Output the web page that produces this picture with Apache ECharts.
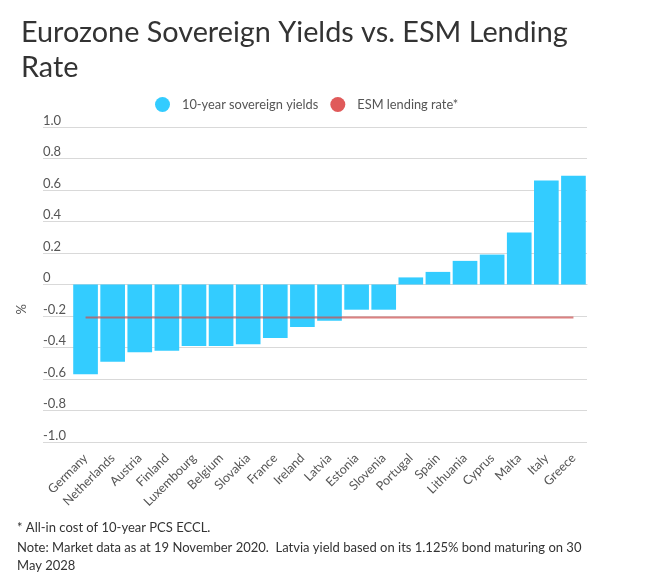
<!DOCTYPE html>
<html>
<head>
<meta charset="utf-8">
<script src="https://cdn.jsdelivr.net/npm/echarts@6/dist/echarts.min.js"></script>
<style>
html,body{margin:0;padding:0;background:#fff;}
#chart{width:650px;height:580px;}
</style>
</head>
<body>
<div id="chart"></div>
<script>
const categories = ["Germany","Netherlands","Austria","Finland","Luxembourg","Belgium","Slovakia","France","Ireland","Latvia","Estonia","Slovenia","Portugal","Spain","Lithuania","Cyprus","Malta","Italy","Greece"];
const sovereignYields = [-0.57,-0.49,-0.43,-0.42,-0.39,-0.39,-0.38,-0.34,-0.27,-0.23,-0.16,-0.16,0.045,0.08,0.15,0.19,0.33,0.66,0.69];
const esmRate = [-0.21,-0.21,-0.21,-0.21,-0.21,-0.21,-0.21,-0.21,-0.21,-0.21,-0.21,-0.21,-0.21,-0.21,-0.21,-0.21,-0.21,-0.21,-0.21];
const titleText = "Eurozone Sovereign Yields vs. ESM Lending\nRate";
const seriesNames = ["10-year sovereign yields","ESM lending rate*"];
const yAxisName = "%";
const footnote1 = "* All-in cost of 10-year PCS ECCL.";
const footnote2 = "Note: Market data as at 19 November 2020.  Latvia yield based on its 1.125% bond maturing on 30";
const footnote3 = "May 2028";

const FONT = "Lato, 'Noto Sans', sans-serif";
const chart = echarts.init(document.getElementById('chart'));
const yFmt = v => (Math.abs(v) < 1e-9 ? "0" : v.toFixed(1));

chart.setOption({
  backgroundColor: '#fff',
  animation: false,
  textStyle: {fontFamily: FONT},
  title: {
    text: titleText,
    left: 16, top: 10,
    textStyle: {fontFamily: FONT, fontSize: 28.8, fontWeight: 'normal', color: '#333', lineHeight: 35}
  },
  legend: {
    left: 150, top: 92,
    itemWidth: 15, itemHeight: 15, itemGap: 12,
    icon: 'circle',
    textStyle: {fontFamily: FONT, fontSize: 12.8, color: '#555', padding: [0,0,0,7]},
    data: seriesNames
  },
  grid: [
    {left: 43, right: 63, top: 127, bottom: 138},
    {left: 72, right: 63, top: 127, bottom: 138}
  ],
  xAxis: [
    {type: 'category', gridIndex: 0, data: categories, show: false},
    {type: 'category', gridIndex: 1, data: categories,
     axisLine: {show: true, lineStyle: {color: '#d6d6d6'}},
     axisTick: {show: false},
     axisLabel: {rotate: 45, fontSize: 12.5, color: '#555', margin: 14, interval: 0, fontFamily: FONT}}
  ],
  yAxis: [
    {type: 'value', gridIndex: 0, min: -1, max: 1, interval: 0.2,
     axisLine: {show: false}, axisTick: {show: false},
     splitLine: {lineStyle: {color: '#d9d9d9'}},
     axisLabel: {inside: true, verticalAlign: 'bottom', margin: 0, padding: [0,0,0,0],
                 fontSize: 13, color: '#555', formatter: yFmt, fontFamily: FONT}},
    {type: 'value', gridIndex: 1, min: -1, max: 1, interval: 0.2, show: false,
     splitLine: {show: false}}
  ],
  series: [
    {name: seriesNames[0], type: 'bar', xAxisIndex: 1, yAxisIndex: 1,
     data: sovereignYields, barWidth: '91%', itemStyle: {color: '#33ccff'}, z: 2},
    {name: seriesNames[1], type: 'line', xAxisIndex: 1, yAxisIndex: 1,
     data: esmRate, showSymbol: false, symbol: 'circle', z: 3,
     itemStyle: {color: '#e05a5a'},
     lineStyle: {color: 'rgba(205,75,75,0.7)', width: 2}}
  ],
  graphic: [
    {type: 'text', left: 15, top: 304, rotation: Math.PI/2,
     style: {text: yAxisName, fontSize: 13, fill: '#555', fontFamily: FONT}},
    {type: 'text', left: 17, top: 521,
     style: {text: footnote1, fontSize: 13, fill: '#333', fontFamily: FONT}},
    {type: 'text', left: 17, top: 541,
     style: {text: footnote2, fontSize: 13, fill: '#333', fontFamily: FONT}},
    {type: 'text', left: 17, top: 559,
     style: {text: footnote3, fontSize: 13, fill: '#333', fontFamily: FONT}}
  ]
});
</script>
</body>
</html>
